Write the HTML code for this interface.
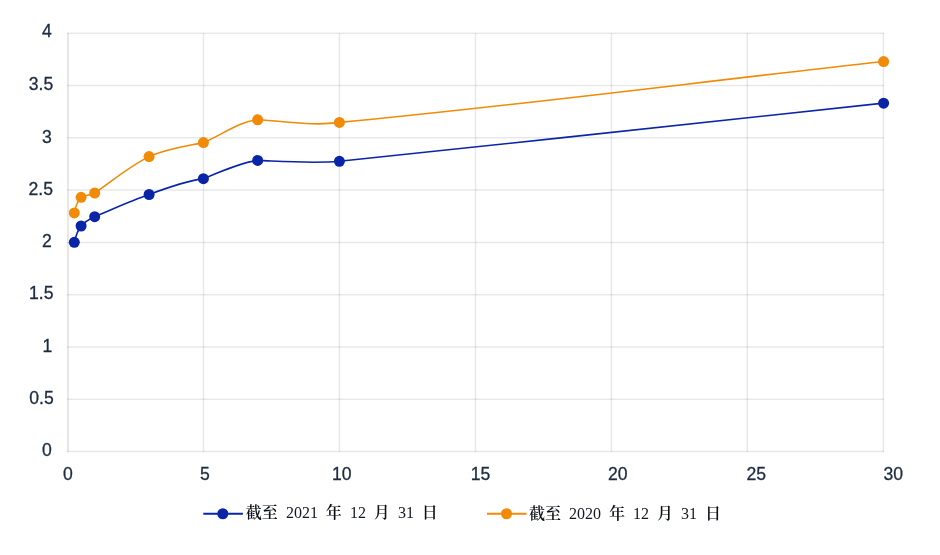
<!DOCTYPE html>
<html lang="zh-CN">
<head>
<meta charset="utf-8">
<title>Chart</title>
<style>
html,body{margin:0;padding:0;background:#fff;}
body{width:940px;height:555px;overflow:hidden;}
svg{display:block;}
</style>
</head>
<body>
<svg width="940" height="555" viewBox="0 0 940 555">
<rect width="940" height="555" fill="#fff"/>
<g stroke="#000" stroke-opacity="0.09" stroke-width="1.5" fill="none">
<line x1="68" y1="33.00" x2="68" y2="452.00" stroke-width="2.2"/>
<line x1="203.50" y1="33.00" x2="203.50" y2="452.00"/>
<line x1="339.45" y1="33.00" x2="339.45" y2="452.00"/>
<line x1="475.50" y1="33.00" x2="475.50" y2="452.00"/>
<line x1="611.45" y1="33.00" x2="611.45" y2="452.00"/>
<line x1="747.30" y1="33.00" x2="747.30" y2="452.00"/>
<line x1="883.45" y1="33.00" x2="883.45" y2="452.00"/>
<line x1="67.00" y1="33.35" x2="884.00" y2="33.35"/>
<line x1="67.00" y1="85.55" x2="884.00" y2="85.55"/>
<line x1="67.00" y1="137.70" x2="884.00" y2="137.70"/>
<line x1="67.00" y1="190.05" x2="884.00" y2="190.05"/>
<line x1="67.00" y1="242.40" x2="884.00" y2="242.40"/>
<line x1="67.00" y1="294.70" x2="884.00" y2="294.70"/>
<line x1="67.00" y1="347.10" x2="884.00" y2="347.10"/>
<line x1="67.00" y1="399.15" x2="884.00" y2="399.15"/>
<line x1="67.00" y1="451.40" x2="884.00" y2="451.40"/>
</g>
<g font-family="'Liberation Sans', sans-serif" font-size="17.6" fill="#1c2b3f" stroke="#1c2b3f" stroke-width="0.3">
<text x="51.80" y="37.20" text-anchor="end">4</text>
<text x="53.20" y="90.25" text-anchor="end">3.5</text>
<text x="51.70" y="142.70" text-anchor="end">3</text>
<text x="53.00" y="195.05" text-anchor="end">2.5</text>
<text x="51.80" y="247.00" text-anchor="end">2</text>
<text x="53.50" y="299.30" text-anchor="end">1.5</text>
<text x="52.30" y="351.85" text-anchor="end">1</text>
<text x="53.70" y="404.35" text-anchor="end">0.5</text>
<text x="51.85" y="455.95" text-anchor="end">0</text>
<text x="68.00" y="479.8" text-anchor="middle">0</text>
<text x="204.90" y="479.8" text-anchor="middle">5</text>
<text x="341.70" y="479.8" text-anchor="middle">10</text>
<text x="480.60" y="479.8" text-anchor="middle">15</text>
<text x="617.70" y="479.8" text-anchor="middle">20</text>
<text x="756.20" y="479.8" text-anchor="middle">25</text>
<text x="893.30" y="479.8" text-anchor="middle">30</text>
</g>
<path d="M74.30 242.30 C74.30 242.30 76.88 231.30 81.10 226.00 C83.27 223.28 88.74 219.46 94.70 216.70 C112.83 209.13 130.97 200.66 149.10 194.50 C167.20 187.75 185.30 181.19 203.40 178.65 C221.48 171.71 239.57 162.48 257.65 160.40 C284.90 161.54 312.15 163.56 339.40 161.30 C520.80 141.56 702.20 123.80 883.60 103.15" fill="none" stroke="#0a24a8" stroke-width="1.6" stroke-linejoin="round"/>
<circle cx="74.30" cy="242.30" r="5.5" fill="#0a24a8"/>
<circle cx="81.10" cy="226.00" r="5.5" fill="#0a24a8"/>
<circle cx="94.70" cy="216.70" r="5.5" fill="#0a24a8"/>
<circle cx="149.10" cy="194.50" r="5.5" fill="#0a24a8"/>
<circle cx="203.40" cy="178.65" r="5.5" fill="#0a24a8"/>
<circle cx="257.65" cy="160.40" r="5.5" fill="#0a24a8"/>
<circle cx="339.40" cy="161.30" r="5.5" fill="#0a24a8"/>
<circle cx="883.60" cy="103.15" r="5.5" fill="#0a24a8"/>

<path d="M74.30 212.90 C74.30 212.90 76.66 201.63 81.10 197.30 C83.15 195.30 89.83 195.91 94.70 193.00 C112.83 180.31 130.97 165.37 149.10 156.60 C167.20 148.50 185.30 146.32 203.40 142.60 C221.48 135.24 239.57 121.22 257.65 119.80 C284.90 120.92 312.15 126.41 339.40 122.40 C520.80 105.33 702.20 81.44 883.60 61.55" fill="none" stroke="#f18a07" stroke-width="1.6" stroke-linejoin="round"/>
<circle cx="74.30" cy="212.90" r="5.5" fill="#f18a07"/>
<circle cx="81.10" cy="197.30" r="5.5" fill="#f18a07"/>
<circle cx="94.70" cy="193.00" r="5.5" fill="#f18a07"/>
<circle cx="149.10" cy="156.60" r="5.5" fill="#f18a07"/>
<circle cx="203.40" cy="142.60" r="5.5" fill="#f18a07"/>
<circle cx="257.65" cy="119.80" r="5.5" fill="#f18a07"/>
<circle cx="339.40" cy="122.40" r="5.5" fill="#f18a07"/>
<circle cx="883.60" cy="61.55" r="5.5" fill="#f18a07"/>

<line x1="203.30" y1="513.75" x2="242.90" y2="513.75" stroke="#0a24a8" stroke-width="1.8"/><circle cx="222.80" cy="513.75" r="5.5" fill="#0a24a8"/><text font-family="'Liberation Serif', 'Noto Serif CJK SC', serif" font-size="16" fill="#0b0f16"><tspan x="245.70" y="517.60" font-weight="600">截至</tspan><tspan x="285.90" y="518.10" fill="#121821">2021</tspan><tspan x="325.70" y="517.60" font-weight="600">年</tspan><tspan x="349.90" y="518.10" fill="#121821">12</tspan><tspan x="373.70" y="517.60" font-weight="600">月</tspan><tspan x="397.90" y="518.10" fill="#121821">31</tspan><tspan x="421.70" y="517.60" font-weight="600">日</tspan></text>
<line x1="487.00" y1="513.75" x2="526.60" y2="513.75" stroke="#f18a07" stroke-width="1.8"/><circle cx="506.50" cy="513.75" r="5.5" fill="#f18a07"/><text font-family="'Liberation Serif', 'Noto Serif CJK SC', serif" font-size="16" fill="#0b0f16"><tspan x="528.90" y="518.80" font-weight="600">截至</tspan><tspan x="569.10" y="519.30" fill="#121821">2020</tspan><tspan x="608.90" y="518.80" font-weight="600">年</tspan><tspan x="633.10" y="519.30" fill="#121821">12</tspan><tspan x="656.90" y="518.80" font-weight="600">月</tspan><tspan x="681.10" y="519.30" fill="#121821">31</tspan><tspan x="704.90" y="518.80" font-weight="600">日</tspan></text>
</svg>
</body>
</html>
